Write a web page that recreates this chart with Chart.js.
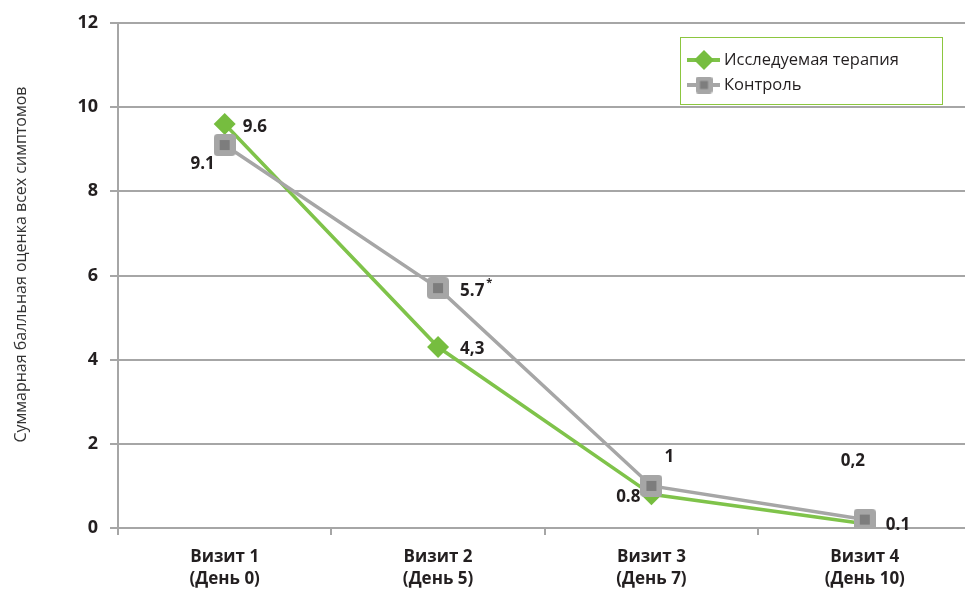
<!DOCTYPE html>
<html>
<head>
<meta charset="utf-8">
<script src="https://cdn.jsdelivr.net/npm/chart.js@4.4.1/dist/chart.umd.min.js"></script>
<style>
  html, body { margin: 0; padding: 0; background: #fff; overflow: hidden; }
  #wrap { width: 990px; height: 590px; }
</style>
</head>
<body>
<div id="wrap"><canvas id="c" width="986" height="590"></canvas></div>
<script>
// Visits and day numbers shown under the x axis
const visits = [['Визит 1', '(День 0)'], ['Визит 2', '(День 5)'], ['Визит 3', '(День 7)'], ['Визит 4', '(День 10)']];
// Total symptom score per visit
const therapyScores = [9.6, 4.3, 0.8, 0.1];
const controlScores = [9.1, 5.7, 1, 0.2];
// Value labels as printed next to the points
const therapyLabels = ['9.6', '4,3', '0.8', '0.1'];
const controlLabels = ['9.1', '5.7', '1', '0,2'];
const controlMarks = ['', '*', '', ''];
const yTicks = [0, 2, 4, 6, 8, 10, 12];

const seriesNames = ['Исследуемая терапия', 'Контроль'];
const yTitle = 'Суммарная балльная оценка всех симптомов';
const GREEN = '#7fc34a';
const GREEN_DARK = '#76bd3f';
const GREY = '#a6a6a6';
const GREY_DARK = '#7d7d7d';
const FONT = "'Open Sans', 'Noto Sans', sans-serif";

// grey rounded square with a darker core
function makeSquareMarker(size) {
  const cv = document.createElement('canvas');
  cv.width = size; cv.height = size;
  const g = cv.getContext('2d');
  const r = size * 0.18;
  g.fillStyle = GREY;
  g.beginPath();
  g.moveTo(r, 0); g.lineTo(size - r, 0); g.quadraticCurveTo(size, 0, size, r);
  g.lineTo(size, size - r); g.quadraticCurveTo(size, size, size - r, size);
  g.lineTo(r, size); g.quadraticCurveTo(0, size, 0, size - r);
  g.lineTo(0, r); g.quadraticCurveTo(0, 0, r, 0);
  g.fill();
  const inner = Math.round(size * 0.46);
  const o = (size - inner) / 2;
  g.fillStyle = GREY_DARK;
  g.fillRect(o, o, inner, inner);
  return cv;
}
const squareMarker = makeSquareMarker(22);
const squareMarkerSmall = makeSquareMarker(17);

// label placement relative to each point: [dx, dy, align]
const therapyLabelPos = [[18, 3, 'left'], [22, 2, 'left'], [-11, 3, 'right'], [21, 1, 'left']];
const controlLabelPos = [[-22, 19, 'center'], [22, 3, 'left'], [18, -29, 'center'], [-12, -58, 'center']];

const valueLabels = {
  id: 'valueLabels',
  afterDatasetsDraw(chart) {
    const ctx = chart.ctx;
    ctx.save();
    ctx.fillStyle = '#231f20';
    ctx.textBaseline = 'middle';
    const put = (dsIndex, texts, pos, marks) => {
      const meta = chart.getDatasetMeta(dsIndex);
      meta.data.forEach((pt, i) => {
        const [dx, dy, align] = pos[i];
        ctx.textAlign = align;
        const x = pt.x + dx, y = pt.y + dy;
        ctx.font = 'bold 17px ' + FONT;
        ctx.fillText(texts[i], x, y);
        if (marks && marks[i]) {
          const w = ctx.measureText(texts[i]).width;
          ctx.font = 'bold 11px ' + FONT;
          ctx.textAlign = 'left';
          ctx.fillText(marks[i], x + w + 2, y - 8);
        }
      });
    };
    put(0, therapyLabels, therapyLabelPos, null);
    put(1, controlLabels, controlLabelPos, controlMarks);
    ctx.restore();
  }
};

// rotated axis title, set a little above the plot's middle
const axisTitle = {
  id: 'axisTitle',
  afterDraw(chart) {
    const ctx = chart.ctx;
    const area = chart.chartArea;
    ctx.save();
    ctx.translate(21, (area.top + area.bottom) / 2 - 11);
    ctx.rotate(-Math.PI / 2);
    ctx.fillStyle = '#333';
    ctx.font = '16px ' + FONT;
    ctx.textAlign = 'center';
    ctx.textBaseline = 'middle';
    ctx.fillText(yTitle, 0, 0);
    ctx.restore();
  }
};

const boxLegend = {
  id: 'boxLegend',
  afterDraw(chart) {
    const ctx = chart.ctx;
    ctx.save();
    const bx = 680.5, by = 37.5, bw = 262, bh = 67;
    ctx.strokeStyle = '#8cc63f';
    ctx.lineWidth = 1;
    ctx.strokeRect(bx, by, bw, bh);
    const rows = [60, 85];
    // row 1: green line with diamond
    ctx.strokeStyle = GREEN; ctx.lineWidth = 4;
    ctx.beginPath(); ctx.moveTo(687, rows[0]); ctx.lineTo(720, rows[0]); ctx.stroke();
    ctx.fillStyle = GREEN_DARK;
    ctx.beginPath();
    const cx = 704, r = 10;
    ctx.moveTo(cx - r, rows[0]); ctx.lineTo(cx, rows[0] - r); ctx.lineTo(cx + r, rows[0]); ctx.lineTo(cx, rows[0] + r);
    ctx.closePath(); ctx.fill();
    // row 2: grey line with square
    ctx.strokeStyle = GREY; ctx.lineWidth = 4;
    ctx.beginPath(); ctx.moveTo(687, rows[1]); ctx.lineTo(720, rows[1]); ctx.stroke();
    ctx.drawImage(squareMarkerSmall, 704 - 8.5, rows[1] - 8.5);
    ctx.fillStyle = '#231f20';
    ctx.font = '16.5px ' + FONT;
    ctx.textAlign = 'left'; ctx.textBaseline = 'middle';
    ctx.fillText(seriesNames[0], 724, rows[0]);
    ctx.fillText(seriesNames[1], 724, rows[1]);
    ctx.restore();
  }
};

new Chart(document.getElementById('c'), {
  type: 'line',
  data: {
    labels: visits,
    datasets: [
      {
        label: seriesNames[0],
        data: therapyScores,
        borderColor: GREEN,
        backgroundColor: GREEN_DARK,
        borderWidth: 3.5,
        pointStyle: 'rectRot',
        pointRadius: 11,
        pointBorderWidth: 0,
        pointBackgroundColor: GREEN_DARK,
        tension: 0,
        order: 1
      },
      {
        label: seriesNames[1],
        data: controlScores,
        borderColor: GREY,
        backgroundColor: GREY,
        borderWidth: 3.5,
        pointStyle: squareMarker,
        pointRadius: 11,
        tension: 0,
        order: 0
      }
    ]
  },
  options: {
    responsive: false,
    animation: false,
    events: [],
    layout: { padding: { top: 23, right: 3, left: 0, bottom: 0 } },
    plugins: { legend: { display: false }, tooltip: { enabled: false } },
    scales: {
      x: {
        offset: true,
        grid: { offset: true, drawOnChartArea: false, drawTicks: true, tickLength: 7, color: '#a6a6a6', lineWidth: 2 },
        border: { display: true, color: '#a6a6a6', width: 2 },
        ticks: {
          color: '#231f20',
          font: { family: FONT, size: 17, weight: 'bold', lineHeight: 1.3 },
          padding: 11,
          maxRotation: 0
        },
        afterFit(scale) { scale.height = 62; }
      },
      y: {
        min: 0,
        max: 12,
        afterBuildTicks(scale) { scale.ticks = yTicks.map(v => ({ value: v })); },
        grid: { color: '#a6a6a6', lineWidth: 2, tickLength: 8 },
        border: { display: true, color: '#a6a6a6', width: 2 },
        ticks: {
          color: '#231f20',
          font: { family: FONT, size: 18, weight: 'bold' },
          padding: 12
        },
        afterFit(scale) { scale.width = 118; }
      }
    }
  },
  plugins: [valueLabels, axisTitle, boxLegend]
});
</script>
</body>
</html>
